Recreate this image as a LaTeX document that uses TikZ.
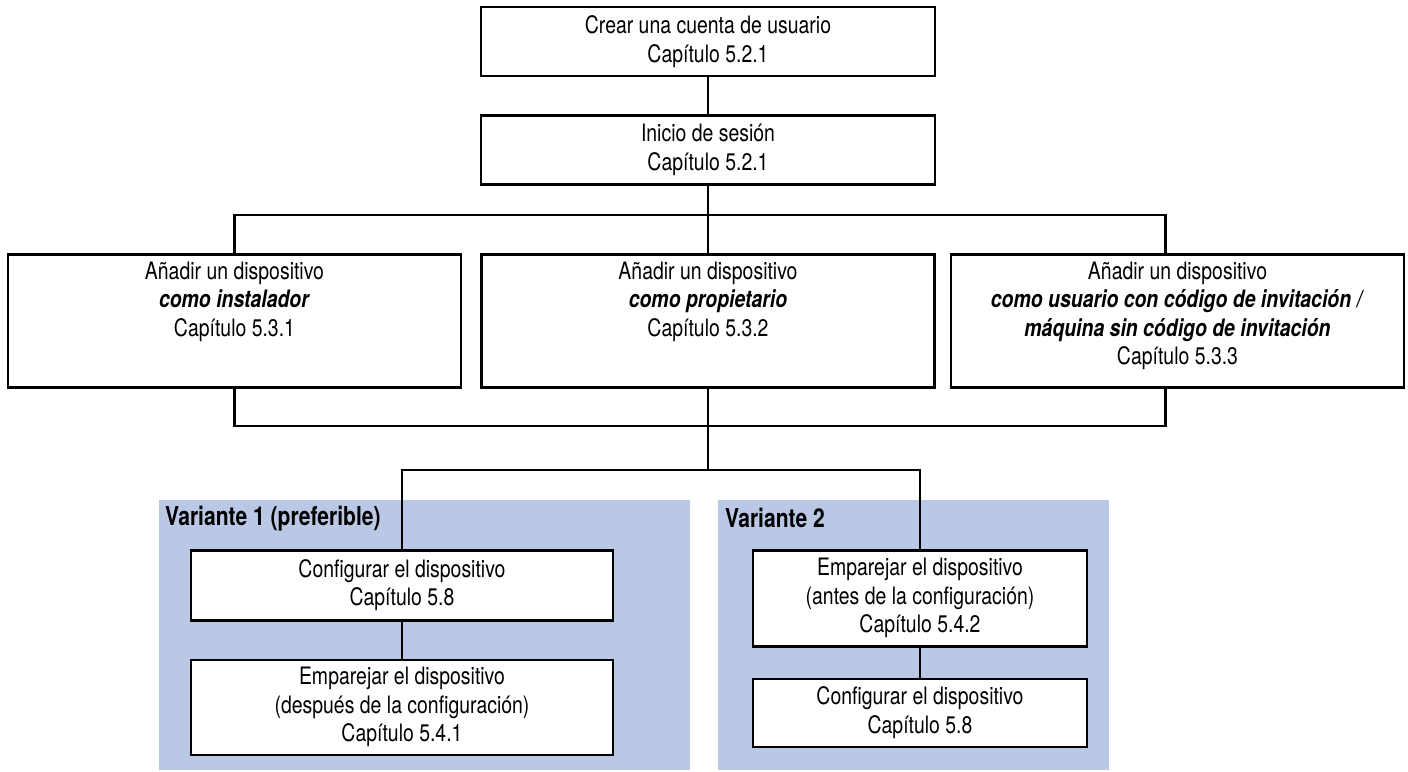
\documentclass[tikz,border=0pt]{standalone}
\usepackage{fontspec}
\setmainfont{TeX Gyre Heros}[FakeStretch=0.81]
\usepackage{xcolor}
\usetikzlibrary{positioning, calc}
\definecolor{panelblue}{RGB}{186,200,230}
\newcommand{\toptext}[1]{\parbox[c][118pt][t]{440pt}{\centering #1}}

\begin{document}
\begin{tikzpicture}[
        x=1pt, y=-1pt,
        font=\fontsize{24pt}{28.5pt}\selectfont,
        box/.style={rectangle, draw, line width=2.5pt, fill=white, inner sep=0pt, align=center},
        addbox/.style={box, minimum width=453pt, minimum height=133pt, anchor=north},
        panel/.style={rectangle, fill=panelblue, anchor=north west, inner sep=0pt, minimum height=270pt},
        varlabel/.style={anchor=west, inner sep=0pt, font=\fontsize{26pt}{30pt}\selectfont\bfseries},
        line/.style={line width=2.5pt}
    ]
    \useasboundingbox (0,0) rectangle (1408,771);

    \node[panel, minimum width=531pt] (var1) at (159,500) {};
    \node[panel, minimum width=391pt] (var2) at (718,500) {};
    \node[varlabel] (var1lbl) at ([xshift=6pt, yshift=-19pt]var1.north west) {Variante 1 (preferible)};
    \node[varlabel] (var2lbl) at ([xshift=7pt, yshift=-18pt]var2.north west) {Variante 2};

    \node[box, minimum width=454pt, minimum height=69pt] (account) at (708,41.5) {Crear una cuenta de usuario\\Capítulo 5.2.1};
    \node[box, minimum width=454pt, minimum height=69pt, below=37pt of account] (login) {Inicio de sesión\\Capítulo 5.2.1};

    \node[addbox] (inst) at (234.5,253) {\toptext{Añadir un dispositivo\\\textbf{\textit{como instalador}}\\Capítulo 5.3.1}};
    \node[addbox] (owner) at (708,253) {\toptext{Añadir un dispositivo\\\textbf{\textit{como propietario}}\\Capítulo 5.3.2}};
    \node[addbox] (user) at (1177.5,253) {\toptext{Añadir un dispositivo\\\textbf{\textit{como usuario con código de invitación /}}\\\textbf{\textit{máquina sin código de invitación}}\\Capítulo 5.3.3}};

    \node[box, minimum width=422pt, minimum height=70pt, anchor=north] (v1conf) at (402,549) {Configurar el dispositivo\\Capítulo 5.8};
    \node[box, minimum width=422pt, minimum height=95pt, below=37pt of v1conf] (v1pair) {Emparejar el dispositivo\\(después de la configuración)\\Capítulo 5.4.1};
    \node[box, minimum width=334pt, minimum height=96pt, anchor=north] (v2pair) at (920,549) {Emparejar el dispositivo\\(antes de la configuración)\\Capítulo 5.4.2};
    \node[box, minimum width=334pt, minimum height=68pt, below=30pt of v2pair] (v2conf) {Configurar el dispositivo\\Capítulo 5.8};

    \coordinate (topbus) at (708,215);
    \coordinate (botbus) at (708,426);
    \coordinate (split) at (708,470);

    \draw[line] (account) -- (login);
    \draw[line] (login) -- (topbus);
    \draw[line] (inst.north) |- (topbus) -| ([xshift=-12pt]user.north);
    \draw[line] (topbus) -- (owner);
    \draw[line] (inst.south) |- (botbus) -| ([xshift=-12pt]user.south);
    \draw[line] (owner) -- (split);
    \draw[line] (v1conf.north) |- (split) -| (v2pair.north);
    \draw[line] (v1conf) -- (v1pair);
    \draw[line] (v2pair) -- (v2conf);

\end{tikzpicture}
\end{document}
